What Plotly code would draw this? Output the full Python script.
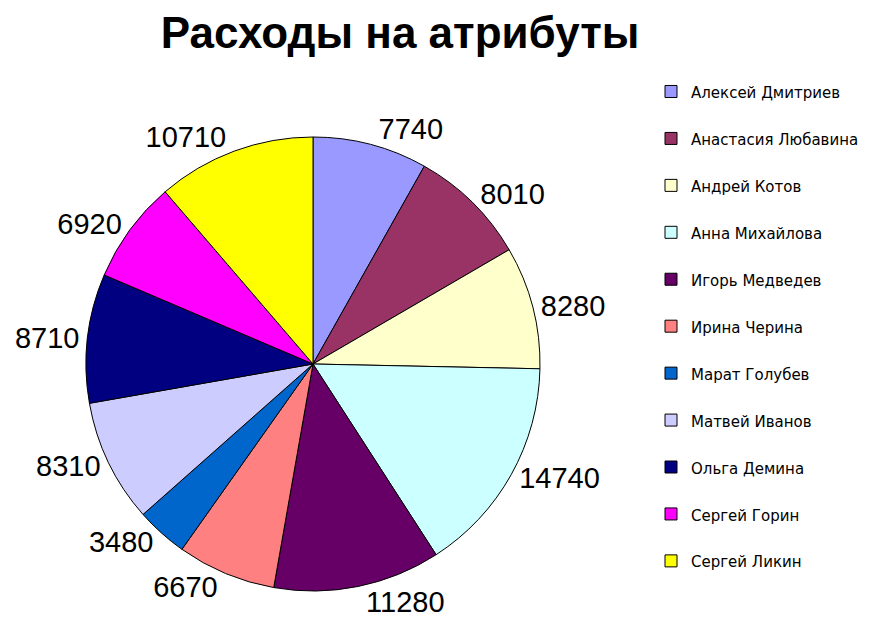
import plotly.graph_objects as go

names = ["Алексей Дмитриев", "Анастасия Любавина", "Андрей Котов", "Анна Михайлова",
         "Игорь Медведев", "Ирина Черина", "Марат Голубев", "Матвей Иванов",
         "Ольга Демина", "Сергей Горин", "Сергей Ликин"]
values = [7740, 8010, 8280, 14740, 11280, 6670, 3480, 8310, 8710, 6920, 10710]
colors = ["#9999FF", "#993366", "#FFFFCC", "#CCFFFF", "#660066", "#FF8080",
          "#0066CC", "#CCCCFF", "#000080", "#FF00FF", "#FFFF00"]

W, H = 893, 642
cx, cy, r = 313, 364, 227

legend_labels = [f"<span style='font-size:15px'>{n}</span><br> " for n in names]

fig = go.Figure(go.Pie(
    labels=legend_labels,
    values=values,
    sort=False,
    direction="clockwise",
    rotation=0,
    marker=dict(colors=colors, line=dict(color="black", width=1)),
    texttemplate="%{value:.0f}",
    textposition="outside",
    textfont=dict(family="Liberation Sans", size=29, color="black"),
    automargin=False,
    hoverinfo="value",
    domain=dict(x=[(cx - r) / W, (cx + r) / W], y=[(H - cy - r) / H, (H - cy + r) / H]),
))

fig.update_layout(
    width=W, height=H,
    margin=dict(l=0, r=0, t=0, b=0),
    paper_bgcolor="white",
    plot_bgcolor="white",
    title=dict(text="<b>Расходы на атрибуты</b>", x=0.448, xanchor="center",
               y=1 - 33 / H, yanchor="middle",
               font=dict(family="Liberation Sans", size=44, color="black")),
    legend=dict(x=651 / W, y=1 - 74 / H, xanchor="left", yanchor="top",
                font=dict(family="DejaVu Sans", size=16.9, color="black"),
                valign="top", itemwidth=30, bgcolor="rgba(0,0,0,0)"),
    showlegend=True,
)

fig.write_html("out.html")
